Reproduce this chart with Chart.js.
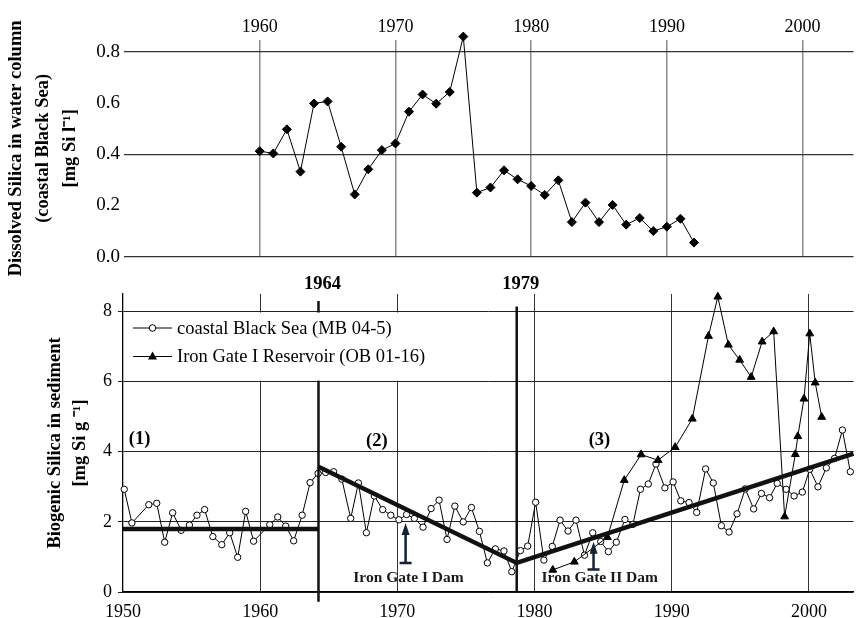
<!DOCTYPE html>
<html>
<head>
<meta charset="utf-8">
<title>Silica - Black Sea</title>
<script src="https://cdn.jsdelivr.net/npm/chart.js@4.4.1/dist/chart.umd.min.js"></script>
<style>
  html, body { margin: 0; padding: 0; background: #fff; }
  #wrap { position: relative; width: 859px; height: 618px; }
  canvas { position: absolute; left: 0; display: block; }
  #topChart { top: 0; z-index: 2; }
  #bottomChart { top: 270px; z-index: 1; }
</style>
</head>
<body>
<div id="wrap">
  <canvas id="topChart" width="859" height="300"></canvas>
  <canvas id="bottomChart" width="859" height="348"></canvas>
</div>
<script>
// dissolved silica in water column, coastal Black Sea
const waterYears = [1960, 1961, 1962, 1963, 1964, 1965, 1966, 1967, 1968, 1969, 1970, 1971, 1972, 1973, 1974, 1975, 1976,
  1977, 1978, 1979, 1980, 1981, 1982, 1983, 1984, 1985, 1986, 1987, 1988, 1989, 1990, 1991, 1992];
const waterSi = [0.412, 0.403, 0.497, 0.332, 0.598, 0.606, 0.429, 0.243, 0.341, 0.416, 0.442, 0.566, 0.633, 0.597, 0.643,
  0.859, 0.250, 0.270, 0.337, 0.302, 0.276, 0.241, 0.298, 0.135, 0.211, 0.135, 0.202, 0.125, 0.151, 0.100, 0.117, 0.148, 0.055];

// biogenic silica in sediment, coastal Black Sea core (MB 04-5)
const coastalYears = [1950.09, 1950.65, 1951.88, 1952.46, 1953.04, 1953.62, 1954.24, 1954.84, 1955.39, 1955.95, 1956.55,
  1957.20, 1957.78, 1958.36, 1958.94, 1959.52, 1960.70, 1961.28, 1961.86, 1962.44, 1963.06, 1963.64, 1964.22, 1964.77,
  1965.35, 1965.95, 1966.60, 1967.16, 1967.74, 1968.32, 1968.93, 1969.52, 1970.11, 1970.67, 1971.24, 1971.87, 1972.46,
  1973.04, 1973.62, 1974.19, 1974.80, 1975.40, 1975.98, 1976.56, 1977.14, 1977.77, 1978.34, 1978.97, 1979.50, 1980.08,
  1980.68, 1981.29, 1981.86, 1982.44, 1983.02, 1983.64, 1984.24, 1984.82, 1985.38, 1985.96, 1986.59, 1987.17, 1987.72,
  1988.29, 1988.85, 1989.50, 1990.10, 1990.66, 1991.26, 1991.82, 1992.47, 1993.03, 1993.62, 1994.18, 1994.76, 1995.36,
  1995.97, 1996.54, 1997.13, 1997.69, 1998.34, 1998.92, 1999.52, 2000.06, 2000.66, 2001.27, 2001.87, 2002.44, 2003.02];
const coastalSi = [2.93, 1.97, 2.49, 2.53, 1.42, 2.26, 1.76, 1.91, 2.19, 2.35, 1.58, 1.35, 1.69, 0.99, 2.30, 1.45,
  1.92, 2.14, 1.88, 1.46, 2.19, 3.12, 3.38, 3.41, 3.43, 3.22, 2.10, 3.11, 1.69, 2.74, 2.35, 2.19,
  2.06, 2.21, 2.10, 1.85, 2.38, 2.62, 1.50, 2.45, 2.00, 2.41, 1.73, 0.83, 1.23, 1.17, 0.58, 1.18,
  1.31, 2.56, 0.91, 1.30, 2.05, 1.74, 2.05, 1.05, 1.69, 1.44, 1.15, 1.42, 2.07, 1.93, 2.93, 3.08, 3.65, 2.97,
  3.14, 2.60, 2.55, 2.27, 3.51, 3.11, 1.89, 1.71, 2.23, 2.94, 2.37, 2.81, 2.69, 3.10, 2.93, 2.74, 2.85,
  3.50, 3.00, 3.54, 3.81, 4.62, 3.43];

// Iron Gate I reservoir core (OB 01-16)
const reservoirYears = [1981.33, 1982.90, 1985.31, 1986.54, 1987.77, 1989.00, 1990.25, 1991.50, 1992.68, 1993.36,
  1994.13, 1994.95, 1995.79, 1996.59, 1997.43, 1998.23, 1999.01, 1999.19, 1999.64, 2000.06, 2000.46, 2000.93];
const reservoirSi = [0.63, 0.86, 1.56, 3.19, 3.92, 3.76, 4.13, 4.94, 7.30, 8.42, 7.05, 6.62, 6.13, 7.14, 7.43,
  2.15, 3.93, 4.44, 5.51, 7.37, 5.97, 4.99];

const topYearTicks = [1960, 1970, 1980, 1990, 2000];
const bottomYearTicks = [1950, 1960, 1970, 1980, 1990, 2000];
const waterTicks = [0, 0.2, 0.4, 0.6, 0.8];
const sedimentTicks = [0, 2, 4, 6, 8];

// periods and the fitted trend lines
const periodBreaks = [1964.25, 1978.7];
const periodBreakLabels = ['1964', '1979'];
const periodNames = ['(1)', '(2)', '(3)'];
const trendYears = [[1950, 1964.25], [1964.25, 1978.7], [1978.7, 2003.25]];
const trendSi = [[1.8, 1.8], [3.57, 0.83], [0.83, 3.95]];

// dam construction
const damYears = [1970.6, 1984.3];
const damNames = ['Iron Gate I Dam', 'Iron Gate II Dam'];

const serif = "'Liberation Serif', 'Times New Roman', serif";
Chart.defaults.font.family = serif;
Chart.defaults.color = '#000';

const pts = (xs, ys) => xs.map((x, i) => ({ x: x, y: ys[i] }));

// top: dissolved silica (canvas is a bit taller so the long axis title can run past the plot)
new Chart(document.getElementById('topChart'), {
  type: 'line',
  data: {
    datasets: [{
      label: 'Dissolved Silica',
      data: pts(waterYears, waterSi),
      borderColor: '#000',
      borderWidth: 1,
      pointStyle: 'rectRot',
      pointRadius: 4.5,
      pointBackgroundColor: '#000',
      pointBorderColor: '#000',
      clip: false
    }]
  },
  options: {
    responsive: false,
    animation: false,
    layout: { padding: { top: 0, right: 0, bottom: 43.3, left: 0 } },
    plugins: { legend: { display: false }, tooltip: { enabled: false } },
    scales: {
      x: {
        type: 'linear', position: 'top', min: 1950, max: 2003.75,
        afterBuildTicks: s => { s.ticks = topYearTicks.map(v => ({ value: v })); },
        afterFit: s => { s.height = 40; },
        grid: { color: '#8a8a8a', lineWidth: 1.5, drawTicks: false },
        border: { display: false },
        ticks: { padding: 2, font: { size: 18 }, callback: v => String(v) }
      },
      y: {
        min: 0, max: 0.8457,
        afterBuildTicks: s => { s.ticks = waterTicks.map(v => ({ value: v })); },
        afterFit: s => { s.width = 124; },
        grid: {
          color: c => (c.tick && [0, 0.4, 0.8].includes(c.tick.value)) ? '#333' : 'rgba(0,0,0,0)',
          lineWidth: 1.2, drawTicks: false
        },
        border: { display: false },
        ticks: { padding: 4, font: { size: 19 }, callback: v => v.toFixed(1) },
        title: {
          display: true,
          text: ['Dissolved Silica in water column', '(coastal Black Sea)', '[mg Si l\u207B\u00B9]'],
          font: { size: 18.5, weight: 'bold', lineHeight: 1.45 },
          padding: { top: 3, bottom: 0 }
        }
      }
    }
  }
});

// annotations for the sediment chart
const sedimentMarks = {
  id: 'sedimentMarks',
  afterDatasetsDraw(chart) {
    const ctx = chart.ctx, x = chart.scales.x, y = chart.scales.y;
    const px = v => x.getPixelForValue(v), py = v => y.getPixelForValue(v);
    ctx.save();

    // trend lines
    ctx.strokeStyle = '#111';
    ctx.lineWidth = 4.5;
    ctx.lineJoin = 'miter';
    ctx.beginPath();
    trendYears.forEach((t, i) => {
      const joined = i > 0 && t[0] === trendYears[i - 1][1] && trendSi[i][0] === trendSi[i - 1][1];
      if (!joined) ctx.moveTo(px(t[0]), py(trendSi[i][0]));
      ctx.lineTo(px(t[1]), py(trendSi[i][1]));
    });
    ctx.stroke();

    // period breaks
    ctx.lineWidth = 2.5;
    const breakTop = [8.3, 8.14], breakBottom = [-0.28, 0];
    periodBreaks.forEach((yr, i) => {
      ctx.beginPath();
      ctx.moveTo(px(yr), py(breakTop[i]));
      ctx.lineTo(px(yr), py(breakBottom[i]));
      ctx.stroke();
    });

    ctx.fillStyle = '#000';
    ctx.textAlign = 'center';
    ctx.textBaseline = 'middle';
    ctx.font = 'bold 18.5px ' + serif;
    periodBreaks.forEach((yr, i) => ctx.fillText(periodBreakLabels[i], px(yr) + 4, py(8.79)));

    const nameX = [1951.21, 1968.5, 1984.73], nameY = [4.36, 4.31, 4.33];
    periodNames.forEach((n, i) => ctx.fillText(n, px(nameX[i]), py(nameY[i])));

    // dam arrows
    const arrowBase = [0.83, 0.64], arrowTip = [1.97, 1.43];
    ctx.strokeStyle = '#10233a';
    ctx.fillStyle = '#10233a';
    ctx.lineWidth = 2.5;
    damYears.forEach((yr, i) => {
      const ax = px(yr), b = py(arrowBase[i]), t = py(arrowTip[i]);
      ctx.beginPath();
      ctx.moveTo(ax, b);
      ctx.lineTo(ax, t + 10);
      ctx.moveTo(ax - 6, b);
      ctx.lineTo(ax + 6, b);
      ctx.stroke();
      ctx.beginPath();
      ctx.moveTo(ax, t);
      ctx.lineTo(ax - 4, t + 12);
      ctx.lineTo(ax + 4, t + 12);
      ctx.closePath();
      ctx.fill();
    });

    ctx.fillStyle = '#1a1a1a';
    ctx.font = 'bold 15.5px ' + serif;
    const damLabelX = [1970.81, 1984.75];
    damNames.forEach((n, i) => ctx.fillText(n, px(damLabelX[i]), py(0.4)));
    ctx.restore();
  },
  afterDraw(chart) {
    // legend inside the plot, on a white box between the 8 and 6 grid lines
    const ctx = chart.ctx, a = chart.chartArea, y = chart.scales.y;
    const top = y.getPixelForValue(8) + 1, bot = y.getPixelForValue(6) - 1;
    ctx.save();
    ctx.fillStyle = '#fff';
    ctx.fillRect(a.left + 1, top, 310, bot - top);

    const rows = [a.top + 34, a.top + 62.5];
    chart.data.datasets.forEach((ds, i) => {
      const ry = rows[i], x0 = a.left + 10, x1 = a.left + 49, mx = (x0 + x1) / 2;
      ctx.strokeStyle = '#000';
      ctx.lineWidth = 1;
      ctx.beginPath();
      ctx.moveTo(x0, ry);
      ctx.lineTo(x1, ry);
      ctx.stroke();
      ctx.beginPath();
      if (ds.pointStyle === 'triangle') {
        ctx.moveTo(mx, ry - 5);
        ctx.lineTo(mx - 4.5, ry + 3);
        ctx.lineTo(mx + 4.5, ry + 3);
        ctx.closePath();
        ctx.fillStyle = '#000';
        ctx.fill();
      } else {
        ctx.arc(mx, ry, 3.3, 0, Math.PI * 2);
        ctx.fillStyle = '#fff';
        ctx.fill();
        ctx.stroke();
      }
      ctx.fillStyle = '#000';
      ctx.font = '18.5px ' + serif;
      ctx.textAlign = 'left';
      ctx.textBaseline = 'middle';
      ctx.fillText(ds.label, x1 + 5, ry + 1);
    });
    ctx.restore();
  }
};

// bottom: biogenic silica in sediment
new Chart(document.getElementById('bottomChart'), {
  type: 'line',
  data: {
    datasets: [{
      label: 'coastal Black Sea (MB 04-5)',
      data: pts(coastalYears, coastalSi),
      borderColor: '#000',
      borderWidth: 1,
      pointStyle: 'circle',
      pointRadius: 3.2,
      pointBackgroundColor: '#fff',
      pointBorderColor: '#000',
      pointBorderWidth: 1,
      clip: false,
      order: 2
    }, {
      label: 'Iron Gate I Reservoir (OB 01-16)',
      data: pts(reservoirYears, reservoirSi),
      borderColor: '#000',
      borderWidth: 1,
      pointStyle: 'triangle',
      pointRadius: 4.5,
      pointBackgroundColor: '#000',
      pointBorderColor: '#000',
      clip: false,
      order: 1
    }]
  },
  options: {
    responsive: false,
    animation: false,
    layout: { padding: { top: 24, right: 0, bottom: 0, left: 0 } },
    plugins: { legend: { display: false }, tooltip: { enabled: false } },
    scales: {
      x: {
        type: 'linear', min: 1950, max: 2003.25,
        afterBuildTicks: s => { s.ticks = bottomYearTicks.map(v => ({ value: v })); },
        afterFit: s => { s.height = 26; },
        grid: {
          color: c => (c.tick && c.tick.value === 1950) ? 'rgba(0,0,0,0)' : '#333',
          lineWidth: 1, drawTicks: false
        },
        border: { display: true, color: '#000', width: 1.3 },
        ticks: { padding: 9, font: { size: 18 }, callback: v => String(v) }
      },
      y: {
        min: 0, max: 8.5,
        afterBuildTicks: s => { s.ticks = sedimentTicks.map(v => ({ value: v })); },
        afterFit: s => { s.width = 123; },
        grid: { color: '#222', lineWidth: 1, tickLength: 5 },
        border: { display: true, color: '#000', width: 1.3 },
        ticks: { padding: 6, font: { size: 18 }, callback: v => String(v) },
        title: {
          display: true,
          text: ['Biogenic Silica in sediment', '[mg Si g \u207B\u00B9]'],
          font: { size: 18.5, weight: 'bold', lineHeight: 1.35 },
          padding: { top: 43, bottom: 0 }
        }
      }
    }
  },
  plugins: [sedimentMarks]
});
</script>
</body>
</html>
